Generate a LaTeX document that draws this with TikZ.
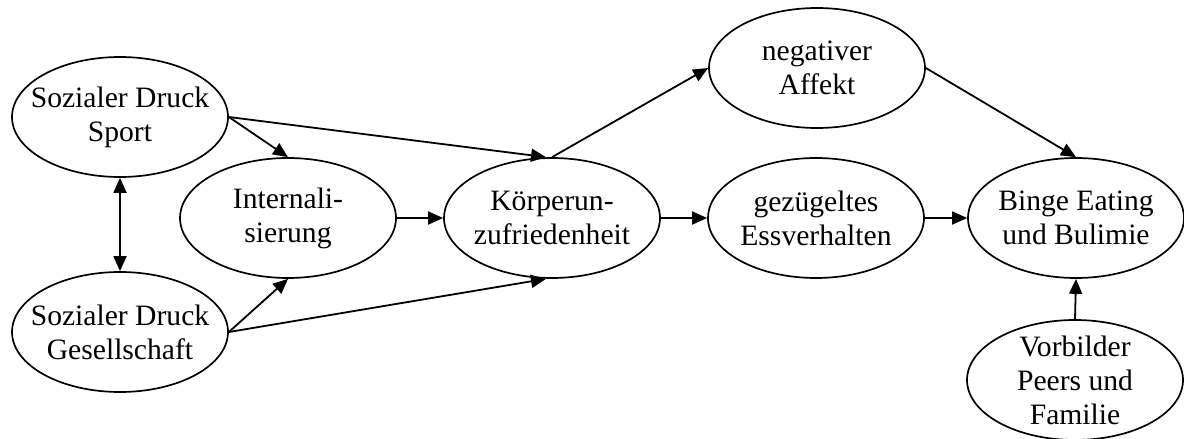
\documentclass[tikz,border=0pt]{standalone}
\usepackage{fontspec}
\setmainfont{Liberation Serif}
\usetikzlibrary{shapes.geometric,arrows.meta}
\begin{document}
\begin{tikzpicture}[x=1pt,y=-1pt,
  ell/.style={draw,ellipse,line width=1.7pt,minimum width=216pt,minimum height=120pt,inner sep=0pt},
  txt/.style={align=center,font=\fontsize{29.6}{34}\selectfont},
  conn/.style={line width=1.8pt,-{Triangle[length=15pt,width=13pt]}},
  biconn/.style={line width=1.8pt,{Triangle[length=15pt,width=13pt]}-{Triangle[length=15pt,width=13pt]}}]
\useasboundingbox (0,0) rectangle (1184,439);
\node[ell,label={[txt]center:Sozialer Druck\\Sport}] (S) at (120,117) {};
\node[ell,label={[txt]center:Sozialer Druck\\Gesellschaft}] (G) at (120,332) {};
\node[ell,label={[txt]center:Internali-\\sierung}] (I) at (288,218) {};
\node[ell,label={[txt]center:Körperun-\\zufriedenheit}] (K) at (552,218) {};
\node[ell,label={[txt]center:negativer\\Affekt}] (N) at (817,68) {};
\node[ell,label={[txt]center:gezügeltes\\Essverhalten}] (E) at (816,218) {};
\node[ell,label={[txt]center:Binge Eating\\und Bulimie}] (B) at (1076,218) {};
\node[ell,label={[txt]center:Vorbilder\\Peers und\\Familie}] (V) at (1075,380) {};
\draw[biconn] (S.south) -- (G.north);
\draw[conn] (S.east) -- (I.north);
\draw[conn] (S.east) -- ([xshift=-6pt]K.north);
\draw[conn] (G.east) -- (I.south);
\draw[conn] (G.east) -- ([xshift=-6pt]K.south);
\draw[conn] (I.east) -- (K.west);
\draw[conn] (K.north) -- (N.west);
\draw[conn] (K.east) -- (E.west);
\draw[conn] (E.east) -- (B.west);
\draw[conn] (N.east) -- (B.north);
\draw[conn] (V.north) -- (B.south);
\end{tikzpicture}
\end{document}
